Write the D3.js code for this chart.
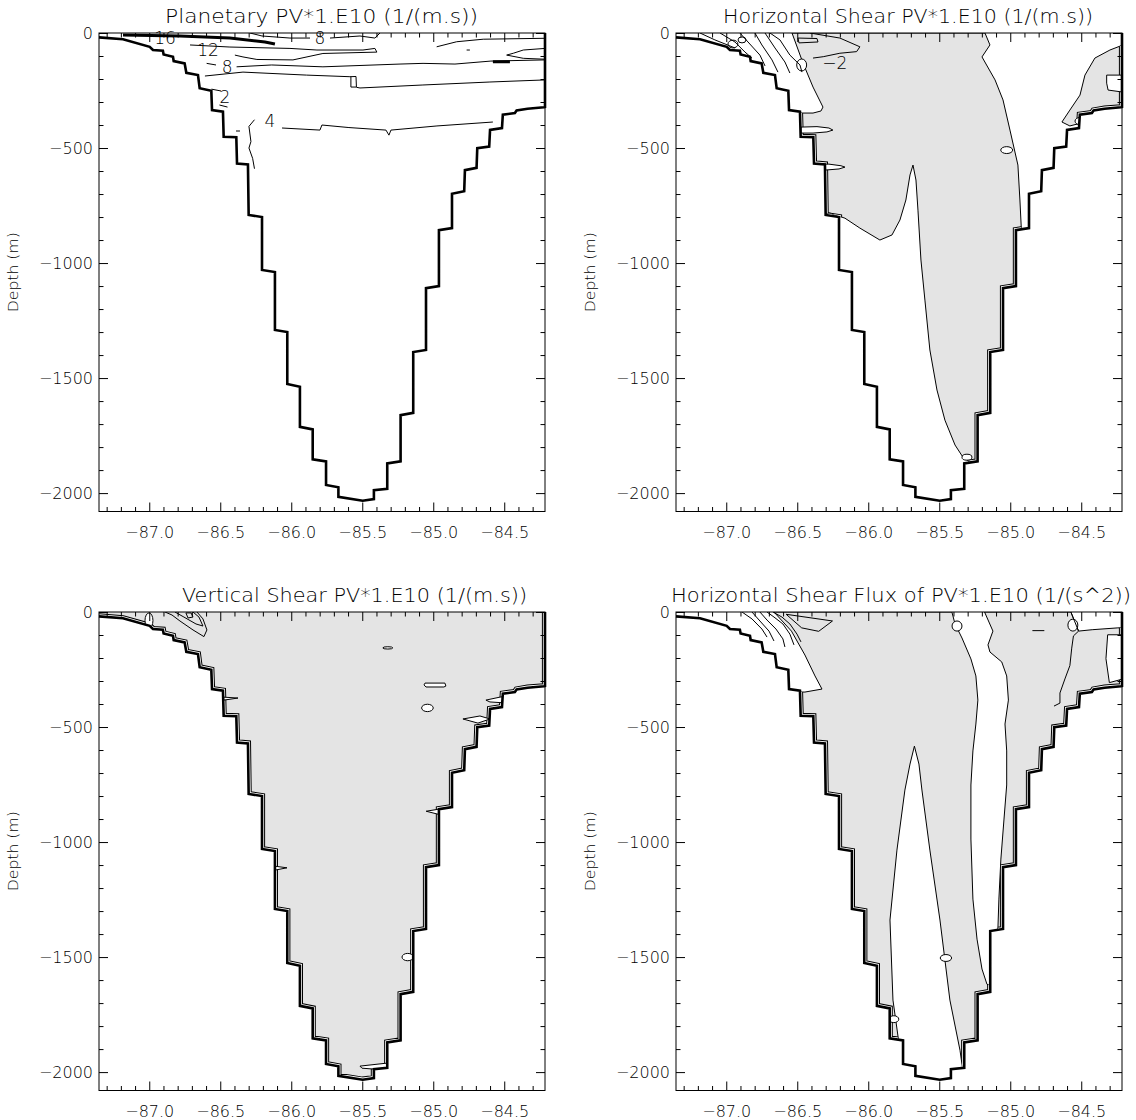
<!DOCTYPE html>
<html><head><meta charset="utf-8">
<script src="https://cdn.jsdelivr.net/npm/d3@7"></script>
<style>body{margin:0;background:#fff}svg text{font-family:"DejaVu Sans",sans-serif;fill:#000;font-weight:300}</style>
</head><body><svg id="c" width="1136" height="1120"></svg>
<script>
// ---------------- data ----------------
const lonDomain = [-87.354, -84.213];
const depthDomain = [-2080, 0];
const lonTicks = [-87.0, -86.5, -86.0, -85.5, -85.0, -84.5];
const depthTicks = [0, -500, -1000, -1500, -2000];
const panelTitles = ["Planetary PV*1.E10 (1/(m.s))", "Horizontal Shear PV*1.E10 (1/(m.s))",
  "Vertical Shear PV*1.E10 (1/(m.s))", "Horizontal Shear Flux of PV*1.E10 (1/(s^2))"];
const yTitle = "Depth (m)";

// bathymetry (lon, depth)
const bathymetry = [[-87.354,-19],[-87.185,-27],[-86.997,-60],[-86.974,-74],[-86.904,-77],[-86.899,-93],[-86.833,-103],[-86.828,-122],[-86.751,-132],[-86.739,-173],[-86.657,-183],[-86.645,-240],[-86.563,-251],[-86.558,-335],[-86.481,-342],[-86.476,-451],[-86.387,-453],[-86.382,-567],[-86.305,-571],[-86.300,-791],[-86.206,-800],[-86.206,-1030],[-86.115,-1039],[-86.115,-1291],[-86.028,-1300],[-86.028,-1526],[-85.939,-1538],[-85.939,-1712],[-85.849,-1723],[-85.849,-1853],[-85.755,-1862],[-85.755,-1965],[-85.668,-1975],[-85.668,-2016],[-85.497,-2033],[-85.418,-2026],[-85.418,-1987],[-85.324,-1981],[-85.324,-1871],[-85.230,-1862],[-85.230,-1661],[-85.141,-1651],[-85.141,-1387],[-85.051,-1378],[-85.051,-1109],[-84.960,-1100],[-84.960,-857],[-84.868,-848],[-84.868,-699],[-84.782,-688],[-84.777,-596],[-84.695,-586],[-84.690,-501],[-84.606,-494],[-84.600,-421],[-84.516,-413],[-84.510,-355],[-84.425,-348],[-84.413,-337],[-84.336,-329],[-84.220,-323],[-84.213,-322],[-84.213,0]];

// ---- Panel 1: planetary PV contours ----
const planetaryLines = [
  [[-86.065,-413],[-85.798,-422],[-85.784,-400],[-85.594,-411],[-85.333,-422],[-85.312,-444],[-85.298,-422],[-84.974,-404],[-84.580,-387]],
  [[-86.259,-377],[-86.298,-406],[-86.284,-472],[-86.298,-500],[-86.272,-545],[-86.259,-590]],
  [[-86.596,-132],[-86.530,-139]],
  [[-86.385,-147],[-86.138,-139],[-85.777,-147],[-85.234,-135],[-85.072,-132],[-84.847,-135],[-84.594,-122],[-84.213,-117]],
  [[-86.608,-187],[-86.340,-170],[-85.892,-183],[-85.587,-190],[-85.544,-189],[-85.541,-236],[-85.516,-239],[-85.073,-226],[-84.601,-213],[-84.213,-204]],
  [[-85.580,-190],[-85.580,-235],[-85.544,-235]],
  [[-86.713,-52],[-86.432,-61],[-86.009,-67],[-85.819,-74],[-85.495,-74],[-85.411,-67],[-85.397,-83],[-85.777,-89],[-85.988,-117],[-86.242,-115],[-86.340,-104],[-86.397,-96]],
  [[-84.976,-60],[-84.835,-38],[-84.648,-27],[-84.213,-23]],
  [[-84.436,-88],[-84.366,-74],[-84.213,-67]],
  [[-84.436,-88],[-84.483,-96],[-84.366,-110],[-84.213,-114]],
  [[-84.765,-74],[-84.742,-74]],
  [[-86.291,0],[-86.206,-13],[-86.009,-22],[-85.868,-22]],
  [[-85.727,-22],[-85.516,-13],[-85.411,-22],[-85.375,0]],
  [[-86.562,-244],[-86.495,-252]],
  [[-86.506,-313],[-86.449,-322]],
  [[-86.389,-426],[-86.361,-426]]
];
const planetaryThick = [[-87.185,-9],[-86.784,-13],[-86.432,-22],[-86.185,-39],[-86.115,-48]];
const planetaryThick2 = [[-84.580,-125],[-84.460,-125]];
const planetaryLabels = [[-86.889,-22,"16"],[-86.586,-74,"12"],[-86.452,-148,"8"],[-85.798,-22,"8"],[-86.467,-278,"2"],[-86.150,-383,"4"]];

// ---- Panel 2: horizontal shear PV ----
const hshearGray = [
  [[-86.537,0],[-85.178,0],[-85.143,-52],[-85.199,-104],[-85.107,-204],[-85.051,-291],[-85.002,-422],[-84.946,-574],[-84.932,-726],[-84.918,-900],[-84.742,-922],[-84.742,-2117],[-85.234,-2117],[-85.284,-1865],[-85.333,-1844],[-85.389,-1791],[-85.460,-1683],[-85.516,-1552],[-85.566,-1378],[-85.601,-1161],[-85.629,-987],[-85.650,-770],[-85.664,-639],[-85.685,-574],[-85.706,-617],[-85.735,-726],[-85.777,-813],[-85.833,-878],[-85.918,-900],[-86.059,-848],[-86.164,-805],[-86.270,-783],[-86.643,-783],[-86.643,-348],[-86.389,-348],[-86.333,-339],[-86.319,-322],[-86.389,-235],[-86.460,-130]],
  [[-84.206,-52],[-84.298,-74],[-84.404,-109],[-84.474,-183],[-84.509,-270],[-84.580,-335],[-84.636,-387],[-84.580,-404],[-84.474,-387],[-84.390,-357],[-84.206,-335]]
];
const hshearWhite = [
  [[-86.474,-409],[-86.361,-407],[-86.277,-413],[-86.249,-422],[-86.291,-430],[-86.389,-435],[-86.474,-435]],
  [[-86.389,-570],[-86.277,-570],[-86.192,-577],[-86.164,-583],[-86.206,-591],[-86.305,-596],[-86.389,-596]],
  [[-84.321,-183],[-84.206,-183],[-84.206,-257],[-84.311,-248],[-84.321,-218]]
];
const hshearEllipses = [[-85.025,-509,0.042,15],[-85.305,-1844,0.035,13],[-84.502,-383,0.042,17],[-86.469,-139,0.035,26],[-86.953,-48,0.035,17],[-86.889,-30,0.028,13]];
const hshearLines = [
  [[-87.185,0],[-87.080,-30],[-86.939,-65]],
  [[-87.044,0],[-86.939,-39],[-86.868,-83],[-86.819,-109]],
  [[-86.904,0],[-86.847,-39],[-86.763,-96],[-86.727,-143]],
  [[-86.798,0],[-86.749,-52],[-86.678,-117],[-86.636,-170]],
  [[-86.727,0],[-86.657,-65],[-86.587,-126],[-86.552,-174]],
  [[-86.692,0],[-86.622,-30],[-86.552,-96],[-86.481,-139],[-86.467,-170]],
  [[-86.411,0],[-86.200,-22],[-86.059,-60],[-86.082,-81],[-86.200,-88],[-86.317,-103],[-86.389,-109]],
  [[-86.495,-22],[-86.361,-24],[-86.354,-39],[-86.488,-43],[-86.495,-22]]
];
const hshearLabels = [[-86.235,-130,"−2"]];

// ---- Panel 3: vertical shear PV ----
const vshearGray = [[[-87.5,50],[-84.0,50],[-84.0,-2200],[-87.5,-2200]]];
const vshearWhite = [
  [[-84.629,-383],[-84.530,-370],[-84.474,-365],[-84.474,-396],[-84.601,-391]],
  [[-84.791,-465],[-84.671,-452],[-84.601,-465],[-84.685,-483]],
  [[-86.481,-370],[-86.375,-374],[-86.474,-383]],
  [[-85.516,-1974],[-85.326,-1961],[-85.326,-1983],[-85.418,-1987],[-85.502,-1983]],
  [[-85.058,-309],[-84.918,-309],[-84.911,-322],[-84.925,-326],[-85.051,-326],[-85.065,-317]],
  [[-84.960,-857],[-85.050,-866],[-84.960,-880]],
  [[-86.115,-1105],[-86.030,-1112],[-86.115,-1122]]
];
const vshearEllipses = [[-85.041,-417,0.041,16],[-85.32,-156,0.035,5],[-87.002,-37,0.028,33],[-85.18,-1500,0.04,16]];
const vshearLines = [
  [[-86.889,0],[-86.840,-13],[-86.784,-39],[-86.692,-78],[-86.615,-107],[-86.594,-78],[-86.622,-30],[-86.664,0]],
  [[-86.819,0],[-86.756,-22],[-86.671,-52],[-86.622,-61],[-86.650,-22],[-86.692,0]],
  [[-86.742,-4],[-86.706,-4],[-86.692,-22],[-86.727,-26],[-86.742,-4]]
];

// ---- Panel 4: horizontal shear flux of PV ----
const hfluxGray = [
  [[-86.664,0],[-85.411,0],[-85.389,-52],[-85.340,-113],[-85.277,-204],[-85.242,-278],[-85.228,-383],[-85.242,-487],[-85.263,-604],[-85.277,-752],[-85.277,-987],[-85.263,-1248],[-85.234,-1422],[-85.199,-1552],[-85.164,-1618],[-85.094,-1639],[-85.094,-2117],[-85.305,-2117],[-85.354,-1905],[-85.425,-1687],[-85.495,-1339],[-85.566,-1035],[-85.622,-774],[-85.643,-661],[-85.675,-583],[-85.706,-661],[-85.742,-774],[-85.798,-1035],[-85.847,-1339],[-85.826,-1687],[-85.777,-1905],[-85.727,-2117],[-86.643,-2117],[-86.643,-348],[-86.476,-348],[-86.446,-348],[-86.326,-335],[-86.375,-278],[-86.446,-187],[-86.541,-83]],
  [[-85.181,0],[-84.573,0],[-84.519,-83],[-84.423,-77],[-84.242,-69],[-84.206,-69],[-84.206,-1683],[-85.023,-1683],[-85.087,-1378],[-85.080,-1248],[-85.066,-1074],[-85.044,-900],[-85.025,-752],[-85.025,-604],[-85.037,-487],[-85.013,-383],[-85.025,-278],[-85.060,-217],[-85.143,-174],[-85.157,-143],[-85.122,-83]]
];
const hfluxWhite = [
  [[-84.314,-99],[-84.206,-99],[-84.206,-291],[-84.302,-307],[-84.326,-203]]
];
const hfluxEllipses = [[-84.559,-57,0.035,26],[-85.375,-61,0.035,22],[-85.453,-1504,0.04,15],[-85.82,-1770,0.035,15]];
const hfluxLines = [
  [[-86.889,0],[-86.819,-30],[-86.749,-74],[-86.713,-109]],
  [[-86.819,0],[-86.763,-39],[-86.699,-83],[-86.664,-126]],
  [[-86.763,0],[-86.713,-35],[-86.650,-74],[-86.601,-117],[-86.587,-152]],
  [[-86.713,0],[-86.664,-22],[-86.601,-52],[-86.552,-96],[-86.523,-143]],
  [[-86.671,0],[-86.608,-22],[-86.552,-52],[-86.502,-96],[-86.474,-130]],
  [[-86.578,-10],[-86.252,-39],[-86.349,-84],[-86.469,-69],[-86.578,-10]],
  [[-84.573,0],[-84.519,-83],[-84.555,-104],[-84.567,-157],[-84.580,-233],[-84.615,-291],[-84.650,-352],[-84.650,-396],[-84.692,-409]],
  [[-84.844,-81],[-84.760,-81]]
];

// ---------------- drawing ----------------
const GRAY = "#e4e4e4";
const plotW = 446, plotH = 478.5;
const lefts = [99, 676], tops = [33, 612];
const titleSpan = [[165, 478], [723, 1093], [182, 527], [671, 1131]];
const panels = [
  {gray: [], white: [], ell: [], lines: planetaryLines, labels: planetaryLabels, thick: [planetaryThick, planetaryThick2]},
  {gray: hshearGray, white: hshearWhite, ell: hshearEllipses, lines: hshearLines, labels: hshearLabels, thick: []},
  {gray: vshearGray, white: vshearWhite, ell: vshearEllipses, lines: vshearLines, labels: [], thick: [], noOutline: true},
  {gray: hfluxGray, white: hfluxWhite, ell: hfluxEllipses, lines: hfluxLines, labels: [], thick: []}
];
const svg = d3.select("#c");
const defs = svg.append("defs");
const minorLon = d3.range(-87.3, -84.2, 0.1).map(v => +v.toFixed(1)).filter(v => !lonTicks.includes(v));
const minorDepth = d3.range(-2000, 1, 100).filter(v => !depthTicks.includes(v));

panels.forEach((p, i) => {
  const left = lefts[i % 2], top = tops[Math.floor(i / 2)];
  const x = d3.scaleLinear().domain(lonDomain).range([left, left + plotW]);
  const y = d3.scaleLinear().domain(depthDomain).range([top + plotH, top]);
  const line = d3.line().x(d => x(d[0])).y(d => y(d[1]));
  const cid = "ocean" + i;
  defs.append("clipPath").attr("id", cid).append("path")
    .attr("d", line(bathymetry.concat([[lonDomain[0], 0]])) + "Z");
  const g = svg.append("g");
  const inner = g.append("g").attr("clip-path", `url(#${cid})`);
  p.gray.forEach(poly => inner.append("path").attr("d", line(poly) + "Z")
    .attr("fill", GRAY).attr("stroke", p.noOutline ? "none" : "#000").attr("stroke-width", 1));
  // thin contour hugging the bottom where the shading meets it
  if (p.gray.length) {
    const gid = "gray" + i;
    const gc = defs.append("clipPath").attr("id", gid);
    p.gray.forEach(poly => gc.append("path").attr("d", line(poly) + "Z"));
    const halo = inner.append("g").attr("clip-path", `url(#${gid})`);
    halo.append("path").attr("d", line(bathymetry)).attr("fill", "none").attr("stroke", "#000").attr("stroke-width", 6.2);
    halo.append("path").attr("d", line(bathymetry)).attr("fill", "none").attr("stroke", "#fff").attr("stroke-width", 4.2);
  }
  p.white.forEach(poly => inner.append("path").attr("d", line(poly) + "Z")
    .attr("fill", "#fff").attr("stroke", "#000").attr("stroke-width", 1));
  p.ell.forEach(e => inner.append("ellipse").attr("cx", x(e[0])).attr("cy", y(e[1]))
    .attr("rx", Math.abs(x(e[0] + e[2]) - x(e[0]))).attr("ry", Math.abs(y(e[1] + e[3]) - y(e[1])))
    .attr("fill", "#fff").attr("stroke", "#000").attr("stroke-width", 1));
  p.lines.forEach(l => inner.append("path").attr("d", line(l))
    .attr("fill", "none").attr("stroke", "#000").attr("stroke-width", 1));
  p.thick.forEach(l => inner.append("path").attr("d", line(l))
    .attr("fill", "none").attr("stroke", "#000").attr("stroke-width", 3));
  p.labels.forEach(t => g.append("text").attr("x", x(t[0])).attr("y", y(t[1]))
    .attr("text-anchor", "middle").attr("dy", "0.36em").attr("font-size", 17).text(t[2]));
  // bathymetry
  g.append("path").attr("d", line(bathymetry)).attr("fill", "none")
    .attr("stroke", "#000").attr("stroke-width", 2.6).attr("stroke-linejoin", "miter");
  // frame
  g.append("rect").attr("x", left).attr("y", top).attr("width", plotW).attr("height", plotH)
    .attr("fill", "none").attr("stroke", "#000").attr("stroke-width", 1);
  const style = s => s.call(a => a.select(".domain").remove())
    .attr("font-size", 16).attr("font-family", "DejaVu Sans, sans-serif").attr("color", "#000");
  const fmtLon = d3.format(".1f"), fmtD = d3.format("d");
  g.append("g").attr("transform", `translate(0,${top + plotH})`)
    .call(d3.axisBottom(x).tickValues(lonTicks).tickSizeInner(-9).tickSizeOuter(0).tickPadding(15).tickFormat(fmtLon)).call(style);
  g.append("g").attr("transform", `translate(0,${top + plotH})`)
    .call(d3.axisBottom(x).tickValues(minorLon).tickSizeInner(-4.5).tickSizeOuter(0).tickFormat("")).call(style);
  g.append("g").attr("transform", `translate(0,${top})`)
    .call(d3.axisTop(x).tickValues(lonTicks).tickSizeInner(-9).tickSizeOuter(0).tickFormat("")).call(style);
  g.append("g").attr("transform", `translate(0,${top})`)
    .call(d3.axisTop(x).tickValues(minorLon).tickSizeInner(-4.5).tickSizeOuter(0).tickFormat("")).call(style);
  g.append("g").attr("transform", `translate(${left},0)`)
    .call(d3.axisLeft(y).tickValues(depthTicks).tickSizeInner(-9).tickSizeOuter(0).tickPadding(6).tickFormat(fmtD)).call(style);
  g.append("g").attr("transform", `translate(${left},0)`)
    .call(d3.axisLeft(y).tickValues(minorDepth).tickSizeInner(-4.5).tickSizeOuter(0).tickFormat("")).call(style);
  g.append("g").attr("transform", `translate(${left + plotW},0)`)
    .call(d3.axisRight(y).tickValues(depthTicks).tickSizeInner(-9).tickSizeOuter(0).tickFormat("")).call(style);
  g.append("g").attr("transform", `translate(${left + plotW},0)`)
    .call(d3.axisRight(y).tickValues(minorDepth).tickSizeInner(-4.5).tickSizeOuter(0).tickFormat("")).call(style);
  // title
  const ts = titleSpan[i];
  g.append("text").attr("x", ts[0]).attr("y", top - 10).attr("text-anchor", "start")
    .attr("font-size", 19).attr("textLength", ts[1] - ts[0]).attr("lengthAdjust", "spacingAndGlyphs")
    .text(panelTitles[i]);
  // y title
  g.append("text").attr("transform", `translate(${left - 81},${top + plotH / 2}) rotate(-90)`)
    .attr("text-anchor", "middle").attr("font-size", 14).attr("textLength", 80)
    .attr("lengthAdjust", "spacingAndGlyphs").text(yTitle);
});
</script>
</body></html>
